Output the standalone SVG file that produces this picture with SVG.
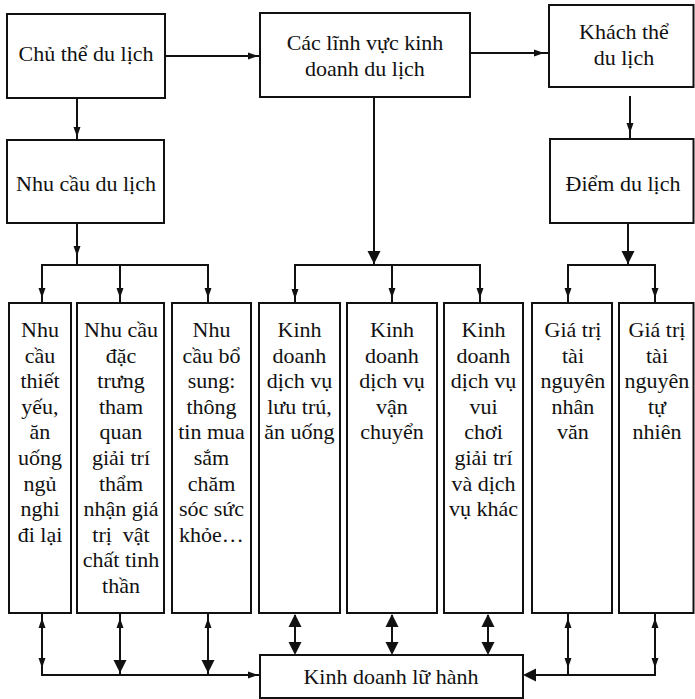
<svg xmlns="http://www.w3.org/2000/svg" xmlns:xlink="http://www.w3.org/1999/xlink" width="695" height="699" viewBox="0 0 695 699">
  <style>
    .box { fill: #ffffff; stroke: #111111; stroke-width: 2; }
    .lbl { font-family: "Liberation Serif", "Times New Roman", serif; font-size: 22px; fill: #111111; text-anchor: middle; }
    .wire { fill: none; stroke: #111111; stroke-width: 2; }
    .head { fill: #111111; }
  </style>
  <defs>
    <!-- arrowheads drawn pointing down, tip at the origin -->
    <path id="ah-s" d="M-3.5,-10 L3.5,-10 L0,0 Z"/>
    <path id="ah-b" d="M-6.5,-13 L6.5,-13 L0,0 Z"/>
  </defs>

  <rect width="695" height="699" fill="#ffffff"/>

  <!-- connectors -->
  <g id="connectors">
    <!-- top row -->
    <path class="wire" d="M165,56 H260"/>
    <use xlink:href="#ah-s" class="head" transform="translate(258,56) rotate(-90)"/>
    <path class="wire" d="M470,53 H549"/>
    <use xlink:href="#ah-s" class="head" transform="translate(544,53) rotate(-90)"/>
    <path class="wire" d="M77,98 V140"/>
    <use xlink:href="#ah-s" class="head" transform="translate(77,137)"/>
    <path class="wire" d="M630,96 V139"/>
    <use xlink:href="#ah-s" class="head" transform="translate(630,133)"/>

    <!-- tourist needs fan-out -->
    <path class="wire" d="M77,223 V265"/>
    <use xlink:href="#ah-s" class="head" transform="translate(77,256)"/>
    <path class="wire" d="M42,303 V265 H208 V303 M120,265 V303"/>
    <use xlink:href="#ah-s" class="head" transform="translate(42,298)"/>
    <use xlink:href="#ah-s" class="head" transform="translate(120,298)"/>
    <use xlink:href="#ah-s" class="head" transform="translate(208,298)"/>

    <!-- business fields fan-out -->
    <path class="wire" d="M374,97 V265"/>
    <use xlink:href="#ah-b" class="head" transform="translate(374,264)"/>
    <path class="wire" d="M295,303 V265 H480 V303 M392,265 V303"/>
    <use xlink:href="#ah-s" class="head" transform="translate(295,299)"/>
    <use xlink:href="#ah-s" class="head" transform="translate(392,298)"/>
    <use xlink:href="#ah-s" class="head" transform="translate(480,298)"/>

    <!-- destination fan-out -->
    <path class="wire" d="M628,223 V265"/>
    <use xlink:href="#ah-b" class="head" transform="translate(628,264)"/>
    <path class="wire" d="M568,303 V265 H655 V303"/>
    <use xlink:href="#ah-s" class="head" transform="translate(568,298)"/>
    <use xlink:href="#ah-s" class="head" transform="translate(655,298)"/>

    <!-- needs columns to tour operation -->
    <path class="wire" d="M42,613 V675 H260 M120,613 V675 M208,613 V675"/>
    <use xlink:href="#ah-s" class="head" transform="translate(42,618) rotate(180)"/>
    <use xlink:href="#ah-s" class="head" transform="translate(120,618) rotate(180)"/>
    <use xlink:href="#ah-s" class="head" transform="translate(208,618) rotate(180)"/>
    <use xlink:href="#ah-s" class="head" transform="translate(42,668)"/>
    <use xlink:href="#ah-b" class="head" transform="translate(120,673)"/>
    <use xlink:href="#ah-b" class="head" transform="translate(208,673)"/>
    <use xlink:href="#ah-s" class="head" transform="translate(258,675) rotate(-90)"/>

    <!-- business columns, two-way -->
    <path class="wire" d="M295,615 V653 M392,615 V653 M488,615 V653"/>
    <use xlink:href="#ah-b" class="head" transform="translate(295,614) rotate(180)"/>
    <use xlink:href="#ah-b" class="head" transform="translate(295,655)"/>
    <use xlink:href="#ah-b" class="head" transform="translate(392,614) rotate(180)"/>
    <use xlink:href="#ah-b" class="head" transform="translate(392,655)"/>
    <use xlink:href="#ah-b" class="head" transform="translate(488,614) rotate(180)"/>
    <use xlink:href="#ah-b" class="head" transform="translate(488,655)"/>

    <!-- resource columns to tour operation -->
    <path class="wire" d="M568,613 V675 M655,613 V675 H525"/>
    <use xlink:href="#ah-s" class="head" transform="translate(568,618) rotate(180)"/>
    <use xlink:href="#ah-s" class="head" transform="translate(655,618) rotate(180)"/>
    <use xlink:href="#ah-s" class="head" transform="translate(568,668)"/>
    <use xlink:href="#ah-s" class="head" transform="translate(655,668)"/>
    <use xlink:href="#ah-b" class="head" transform="translate(523,675) rotate(90)"/>
  </g>

  <!-- top row -->
  <g id="chu-the">
    <rect class="box" x="7" y="14" width="158" height="84"/>
    <text class="lbl" x="86" y="61">Chủ thể du lịch</text>
  </g>
  <g id="linh-vuc">
    <rect class="box" x="260" y="13" width="210" height="84"/>
    <text class="lbl" x="365" y="50">Các lĩnh vực kinh</text>
    <text class="lbl" x="365" y="76">doanh du lịch</text>
  </g>
  <g id="khach-the">
    <rect class="box" x="549" y="5" width="144.5" height="82"/>
    <text class="lbl" x="624" y="39">Khách thể</text>
    <text class="lbl" x="624" y="65">du lịch</text>
  </g>

  <!-- second row -->
  <g id="nhu-cau">
    <rect class="box" x="7" y="140" width="157" height="83"/>
    <text class="lbl" x="86" y="191">Nhu cầu du lịch</text>
  </g>
  <g id="diem">
    <rect class="box" x="550" y="139" width="143.5" height="84"/>
    <text class="lbl" x="623" y="191">Điểm du lịch</text>
  </g>

  <!-- columns -->
  <g id="col-thiet-yeu">
    <rect class="box" x="9" y="303" width="62" height="310"/>
    <text class="lbl" x="40"><tspan x="40" y="337">Nhu</tspan><tspan x="40" y="362.6">cầu</tspan><tspan x="40" y="388.2">thiết</tspan><tspan x="40" y="413.8">yếu,</tspan><tspan x="40" y="439.4">ăn</tspan><tspan x="40" y="465">uống</tspan><tspan x="40" y="490.6">ngủ</tspan><tspan x="40" y="516.2">nghi</tspan><tspan x="40" y="541.8">đi lại</tspan></text>
  </g>
  <g id="col-dac-trung">
    <rect class="box" x="77" y="303" width="87" height="310"/>
    <text class="lbl" x="121"><tspan x="121" y="337">Nhu cầu</tspan><tspan x="121" y="362.6">đặc</tspan><tspan x="121" y="388.2">trưng</tspan><tspan x="121" y="413.8">tham</tspan><tspan x="121" y="439.4">quan</tspan><tspan x="121" y="465">giải trí</tspan><tspan x="121" y="490.6">thẩm</tspan><tspan x="121" y="516.2">nhận giá</tspan><tspan x="121" y="541.8">trị&#160; vật</tspan><tspan x="121" y="567.4">chất tinh</tspan><tspan x="121" y="593">thần</tspan></text>
  </g>
  <g id="col-bo-sung">
    <rect class="box" x="172" y="303" width="79" height="310"/>
    <text class="lbl" x="211.5"><tspan x="211.5" y="337">Nhu</tspan><tspan x="211.5" y="362.6">cầu bổ</tspan><tspan x="211.5" y="388.2">sung:</tspan><tspan x="211.5" y="413.8">thông</tspan><tspan x="211.5" y="439.4">tin mua</tspan><tspan x="211.5" y="465">sắm</tspan><tspan x="211.5" y="490.6">chăm</tspan><tspan x="211.5" y="516.2">sóc sức</tspan><tspan x="211.5" y="541.8">khỏe…</tspan></text>
  </g>
  <g id="col-luu-tru">
    <rect class="box" x="259" y="303" width="81" height="310"/>
    <text class="lbl" x="299.5"><tspan x="299.5" y="337">Kinh</tspan><tspan x="299.5" y="362.6">doanh</tspan><tspan x="299.5" y="388.2">dịch vụ</tspan><tspan x="299.5" y="413.8">lưu trú,</tspan><tspan x="299.5" y="439.4">ăn uống</tspan></text>
  </g>
  <g id="col-van-chuyen">
    <rect class="box" x="347" y="303" width="90" height="310"/>
    <text class="lbl" x="392"><tspan x="392" y="337">Kinh</tspan><tspan x="392" y="362.6">doanh</tspan><tspan x="392" y="388.2">dịch vụ</tspan><tspan x="392" y="413.8">vận</tspan><tspan x="392" y="439.4">chuyển</tspan></text>
  </g>
  <g id="col-vui-choi">
    <rect class="box" x="444" y="303" width="79" height="310"/>
    <text class="lbl" x="483.5"><tspan x="483.5" y="337">Kinh</tspan><tspan x="483.5" y="362.6">doanh</tspan><tspan x="483.5" y="388.2">dịch vụ</tspan><tspan x="483.5" y="413.8">vui</tspan><tspan x="483.5" y="439.4">chơi</tspan><tspan x="483.5" y="465">giải trí</tspan><tspan x="483.5" y="490.6">và dịch</tspan><tspan x="483.5" y="516.2">vụ khác</tspan></text>
  </g>
  <g id="col-nhan-van">
    <rect class="box" x="532" y="303" width="80" height="310"/>
    <text class="lbl" x="573"><tspan x="573" y="337">Giá trị</tspan><tspan x="573" y="362.6">tài</tspan><tspan x="573" y="388.2">nguyên</tspan><tspan x="573" y="413.8">nhân</tspan><tspan x="573" y="439.4">văn</tspan></text>
  </g>
  <g id="col-tu-nhien">
    <rect class="box" x="619" y="303" width="74.5" height="310"/>
    <text class="lbl" x="657"><tspan x="657" y="337">Giá trị</tspan><tspan x="657" y="362.6">tài</tspan><tspan x="657" y="388.2">nguyên</tspan><tspan x="657" y="413.8">tự</tspan><tspan x="657" y="439.4">nhiên</tspan></text>
  </g>

  <!-- bottom -->
  <g id="lu-hanh">
    <rect class="box" x="260" y="655" width="263" height="43"/>
    <text class="lbl" x="391" y="684">Kinh doanh lữ hành</text>
  </g>
</svg>
